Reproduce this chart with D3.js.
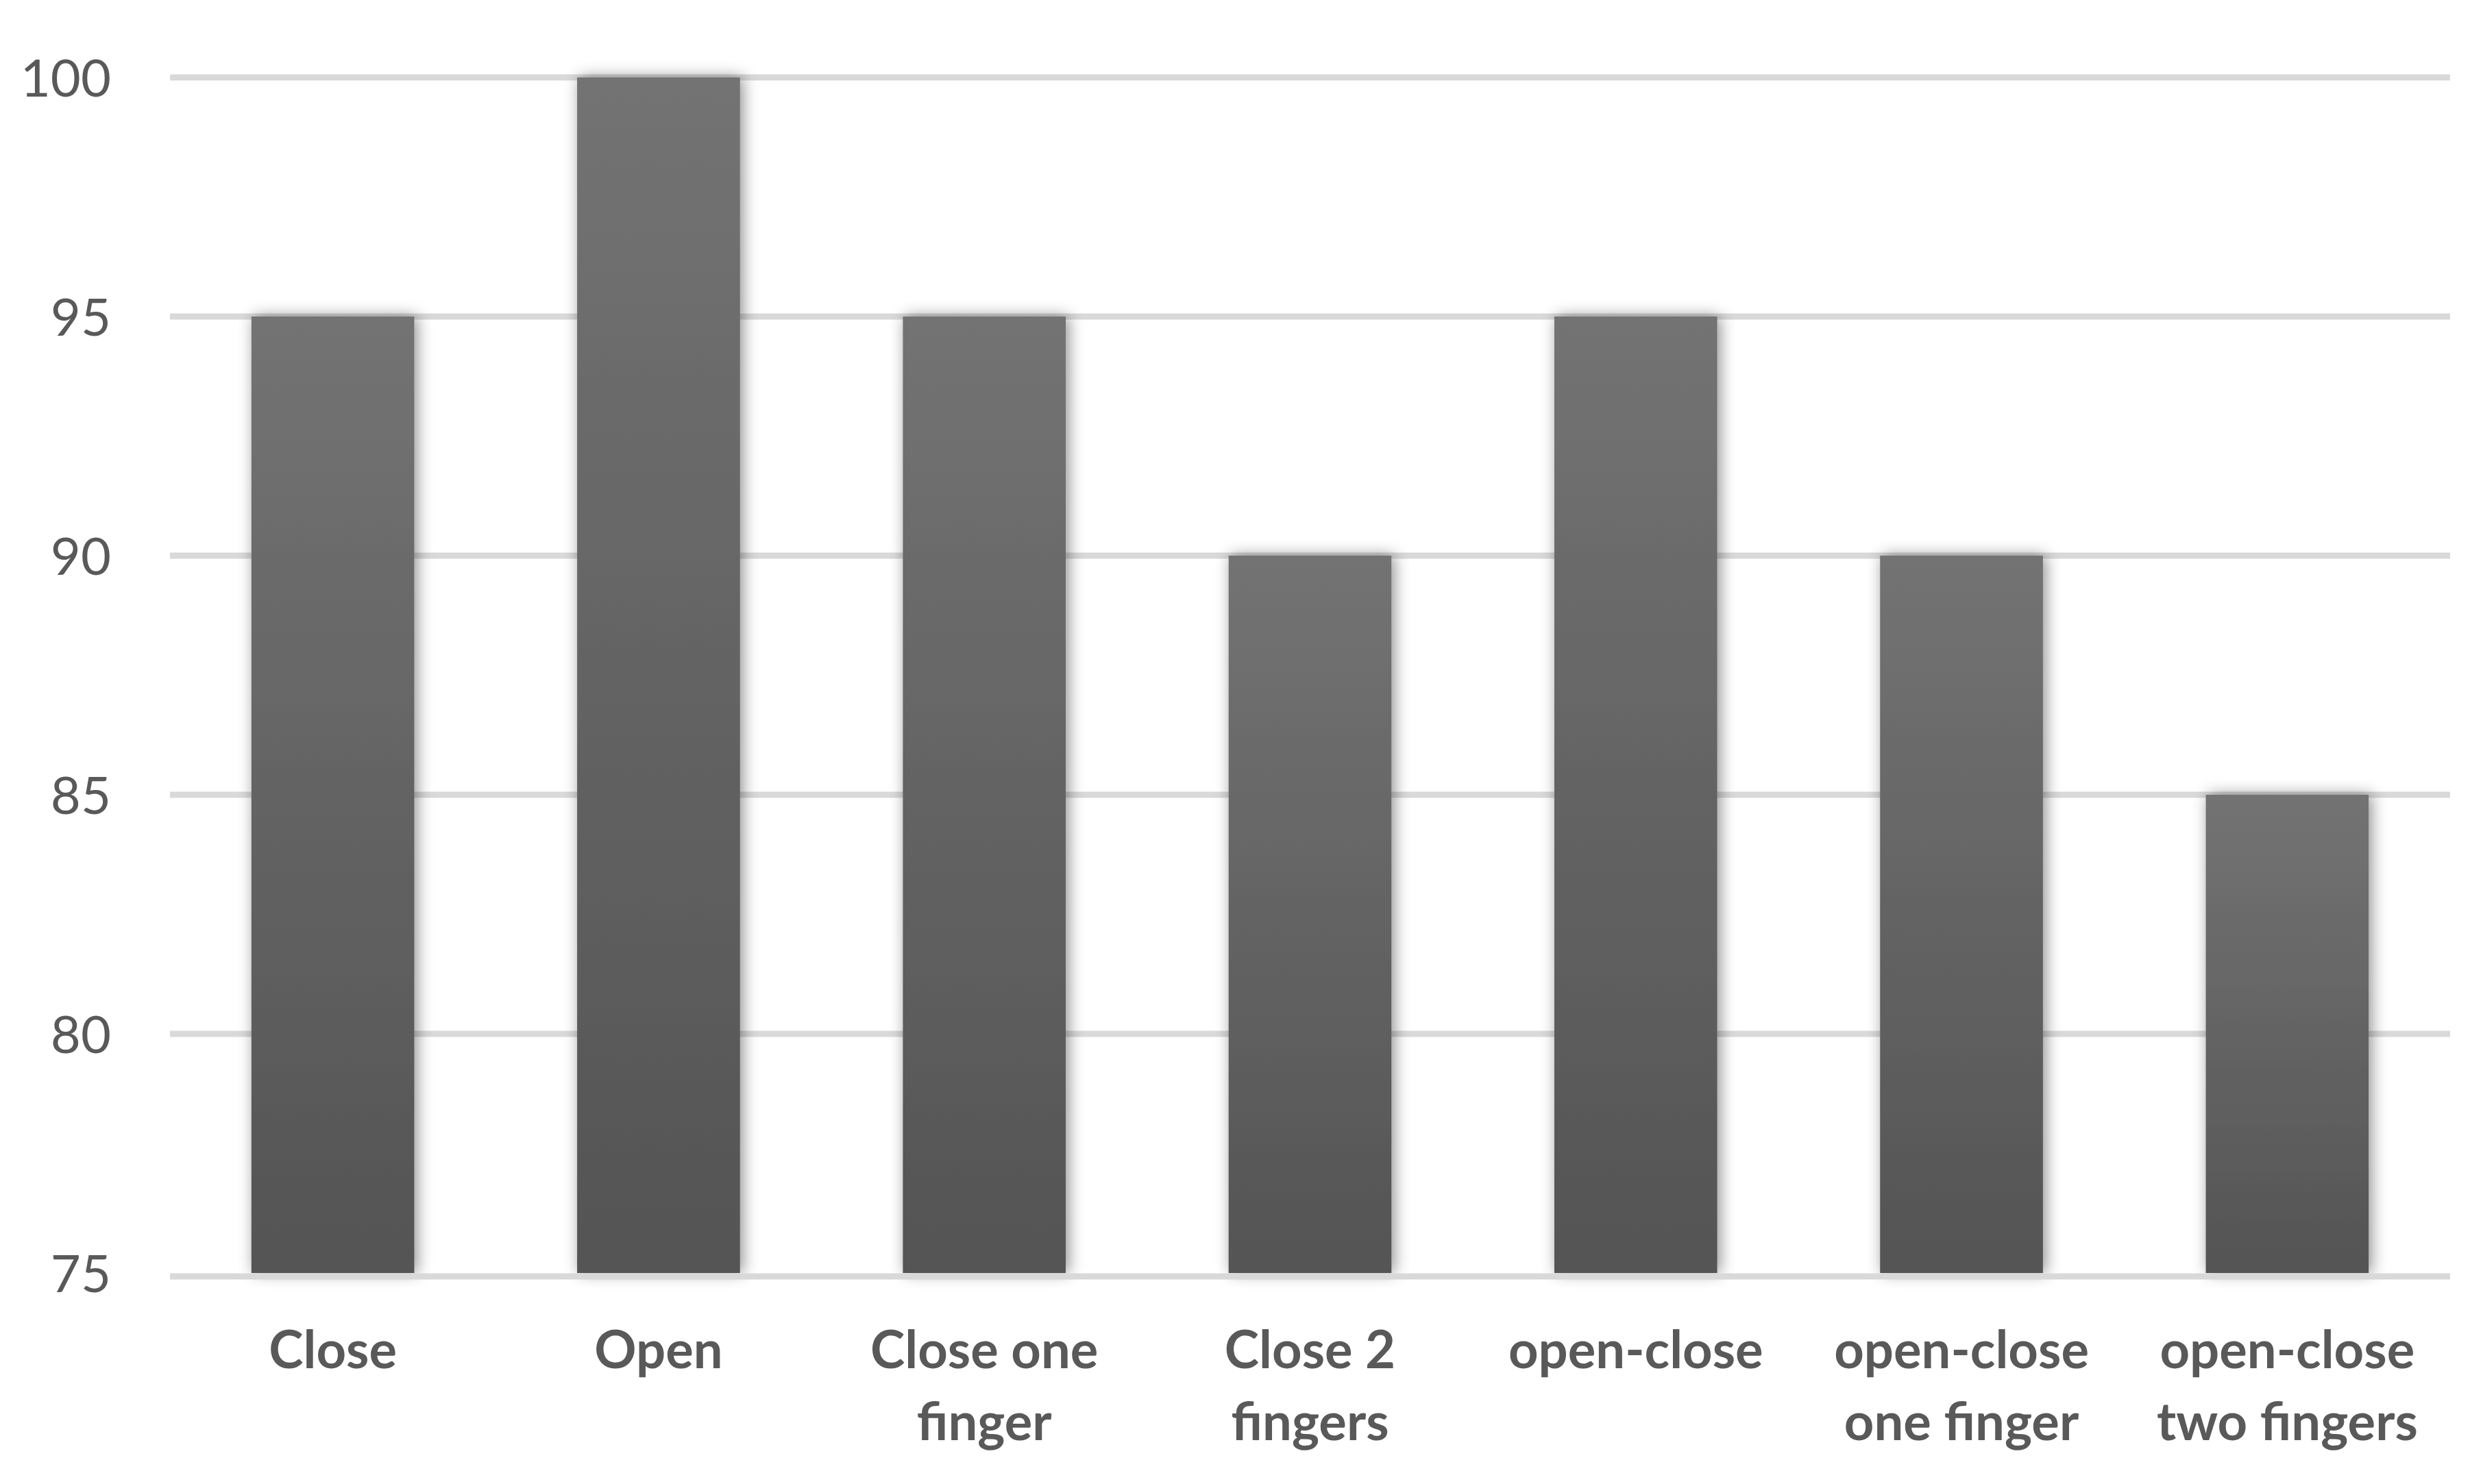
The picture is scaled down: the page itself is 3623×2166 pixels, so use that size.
<!DOCTYPE html>
<html>
<head>
<meta charset="utf-8">
<script src="https://cdn.jsdelivr.net/npm/d3@7"></script>
<style>
  html, body { margin: 0; padding: 0; background: #ffffff; }
  svg { display: block; }
</style>
</head>
<body>
<script>
// ---- data ----
const categories = [
  ["Close"],
  ["Open"],
  ["Close one", "finger"],
  ["Close 2", "fingers"],
  ["open-close"],
  ["open-close", "one finger"],
  ["open-close", "two fingers"]
];
const values = [95, 100, 95, 90, 95, 90, 85];
const yTicks = [75, 80, 85, 90, 95, 100];

// ---- layout ----
const W = 3623, H = 2166;
const plot = { left: 248, right: 3575, top: 113, bottom: 1858 };

const svg = d3.select("body").append("svg")
  .attr("width", W).attr("height", H);

const defs = svg.append("defs");
const grad = defs.append("linearGradient")
  .attr("id", "barGrad").attr("x1", 0).attr("y1", 0).attr("x2", 0).attr("y2", 1);
grad.append("stop").attr("offset", "0%").attr("stop-color", "#737373");
grad.append("stop").attr("offset", "100%").attr("stop-color", "#545454");

const filt = defs.append("filter").attr("id", "shadow")
  .attr("x", "-30%").attr("y", "-10%").attr("width", "160%").attr("height", "120%");
filt.append("feDropShadow")
  .attr("dx", 4).attr("dy", 0).attr("stdDeviation", 11)
  .attr("flood-color", "#000").attr("flood-opacity", 0.45);

const x = d3.scaleBand()
  .domain(d3.range(categories.length))
  .range([plot.left, plot.right])
  .paddingInner(0.5).paddingOuter(0.25);

const y = d3.scaleLinear()
  .domain([75, 100])
  .range([plot.bottom, plot.top]);

// gridlines
svg.append("g").selectAll("line")
  .data(yTicks.filter(d => d !== 75))
  .join("line")
  .attr("x1", plot.left).attr("x2", plot.right)
  .attr("y1", d => y(d)).attr("y2", d => y(d))
  .attr("stroke", "#d9d9d9").attr("stroke-width", 9);

// bars
svg.append("g").selectAll("rect")
  .data(values)
  .join("rect")
  .attr("x", (d, i) => x(i))
  .attr("width", x.bandwidth())
  .attr("y", d => y(d))
  .attr("height", d => y(75) - y(d))
  .attr("fill", "url(#barGrad)")
  .attr("filter", "url(#shadow)");

// baseline
svg.append("line")
  .attr("x1", plot.left).attr("x2", plot.right)
  .attr("y1", y(75) + 5).attr("y2", y(75) + 5)
  .attr("stroke", "#d9d9d9").attr("stroke-width", 9);

// y axis labels
const yAxis = d3.axisLeft(y).tickValues(yTicks).tickSize(0).tickPadding(0);
const gy = svg.append("g")
  .attr("transform", `translate(${plot.left - 86},0)`)
  .call(yAxis);
gy.select(".domain").remove();
gy.selectAll("text")
  .attr("font-family", "Lato, 'Open Sans', sans-serif")
  .attr("font-size", 76)
  .attr("fill", "#595959")
  .attr("dy", "0.36em");

// x category labels
const xl = svg.append("g");
categories.forEach((lines, i) => {
  const t = xl.append("text")
    .attr("x", x(i) + x.bandwidth() / 2)
    .attr("y", 1997)
    .attr("text-anchor", "middle")
    .attr("font-family", "Lato, 'Open Sans', sans-serif")
    .attr("font-weight", "bold")
    .attr("font-size", 76)
    .attr("fill", "#595959");
  lines.forEach((ln, j) => {
    t.append("tspan")
      .attr("x", x(i) + x.bandwidth() / 2)
      .attr("dy", j === 0 ? 0 : 105)
      .text(ln);
  });
});
</script>
</body>
</html>
